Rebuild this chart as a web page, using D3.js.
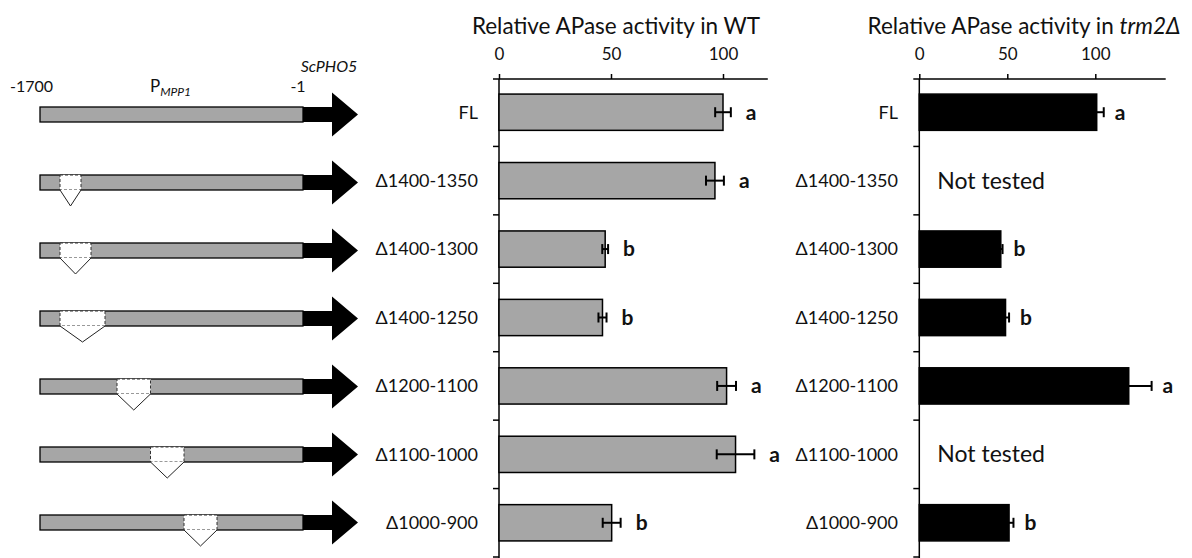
<!DOCTYPE html>
<html>
<head>
<meta charset="utf-8">
<script src="https://cdn.jsdelivr.net/npm/d3@7"></script>
<style>
  html, body { margin: 0; padding: 0; background: #fff; }
  svg { display: block; font-family: Lato, "Open Sans", sans-serif; }
</style>
</head>
<body>
<svg id="fig" width="1192" height="558"></svg>
<script>
// Promoter constructs (rows, top to bottom)
const constructs = ["FL", "Δ1400-1350", "Δ1400-1300", "Δ1400-1250", "Δ1200-1100", "Δ1100-1000", "Δ1000-900"];
// Deleted promoter segment of each construct (bp upstream of ScPHO5)
const deletionStart = [null, -1400, -1400, -1400, -1200, -1100, -1000];
const deletionEnd   = [null, -1350, -1300, -1250, -1100, -1000, -900];
// Relative APase activity in WT (mean, error, significance group)
const wtActivity = [100, 96.4, 47.4, 46.2, 101.6, 105.6, 50.3];
const wtError    = [3.5, 4, 1.3, 1.8, 4.2, 8.4, 4];
const wtGroup    = ["a", "a", "b", "b", "a", "a", "b"];
// Relative APase activity in trm2Δ (null = not tested)
const trm2Activity = [100.8, null, 46.3, 49, 119, null, 51];
const trm2Error    = [4, null, 1, 2, 13, null, 2.5];
const trm2Group    = ["a", null, "b", "b", "a", null, "b"];
// Axis ticks
const xTicks = [0, 50, 100];

const svg = d3.select("#fig");
svg.append("rect").attr("width", 1192).attr("height", 558).attr("fill", "#fff");

const GREY = "#a6a6a6";

// ---------- promoter schematic ----------
const px = d3.scaleLinear()
  .domain([-1700, -1400, -1350, -1300, -1250, -1200, -1100, -1000, -900, -1])
  .range([40, 60, 81, 91, 105, 117, 150.5, 184, 217, 303]);
const py = d3.scalePoint().domain(constructs).range([114.5, 522.5]);
const halfBar = 7.5, headHalf = 22, headStart = 332, tipX = 358, triH = 16;

const rows = svg.append("g").selectAll("g").data(constructs).join("g")
  .attr("transform", d => `translate(0,${py(d)})`);

rows.append("rect")
  .attr("x", px(-1700)).attr("y", -halfBar)
  .attr("width", px(-1) - px(-1700)).attr("height", 2 * halfBar)
  .attr("fill", GREY).attr("stroke", "#000").attr("stroke-width", 1.3);

rows.append("path")
  .attr("d", `M${px(-1)},${-halfBar}H${headStart}V${-headHalf}L${tipX},0L${headStart},${headHalf}V${halfBar}H${px(-1)}Z`)
  .attr("fill", "#000");

const del = rows.filter((d, i) => deletionStart[i] !== null);
del.append("rect")
  .attr("x", d => px(deletionStart[constructs.indexOf(d)]))
  .attr("y", -halfBar)
  .attr("width", d => px(deletionEnd[constructs.indexOf(d)]) - px(deletionStart[constructs.indexOf(d)]))
  .attr("height", 2 * halfBar)
  .attr("fill", "#fff").attr("stroke", "#333").attr("stroke-width", 1)
  .attr("stroke-dasharray", "3,2");
del.append("path")
  .attr("d", d => {
    const i = constructs.indexOf(d);
    const a = px(deletionStart[i]), b = px(deletionEnd[i]);
    return `M${a},${halfBar}L${(a + b) / 2},${halfBar + triH}L${b},${halfBar}`;
  })
  .attr("fill", "#fff").attr("stroke", "#222").attr("stroke-width", 1);

const lab = svg.append("g").attr("font-size", 16).attr("fill", "#111");
lab.append("text").attr("x", 10).attr("y", 92).text("-1700");
lab.append("text").attr("x", 298).attr("y", 92).attr("text-anchor", "middle").text("-1");
const pm = lab.append("text").attr("x", 150).attr("y", 92);
pm.append("tspan").attr("font-size", 17).text("P");
pm.append("tspan").attr("font-size", 12).attr("font-style", "italic").attr("dy", 4).text("MPP1");
lab.append("text").attr("x", 329).attr("y", 72).attr("text-anchor", "middle")
  .attr("font-style", "italic").text("ScPHO5");

// ---------- bar panels ----------
const yBand = d3.scaleBand().domain(constructs).range([78, 557])
  .paddingInner(0.47).paddingOuter(0.235);
const axisY = 79;

function panel(opts) {
  const { x, values, errors, groups, fill, labelX, title, letterGap } = opts;
  const g = svg.append("g");
  const x0 = x(0);

  // title
  const t = g.append("text").attr("x", opts.titleX).attr("y", 34)
    .attr("text-anchor", "middle").attr("font-size", 22.5).attr("fill", "#111");
  title(t);

  // top value axis
  const ax = g.append("g").attr("transform", `translate(0,${axisY})`)
    .call(d3.axisTop(x).tickValues(xTicks).tickSize(5).tickPadding(14).tickSizeOuter(0));
  ax.select(".domain").remove();
  ax.selectAll(".tick line").attr("stroke", "#000").attr("stroke-width", 1.5);
  ax.selectAll(".tick text").attr("font-size", 17).attr("fill", "#111").attr("font-family", "Lato, sans-serif");
  g.append("line").attr("x1", x0 - 6).attr("x2", x.range()[1])
    .attr("y1", axisY).attr("y2", axisY).attr("stroke", "#000").attr("stroke-width", 1.5);

  // category axis
  g.append("line").attr("x1", x0).attr("x2", x0).attr("y1", axisY).attr("y2", 558)
    .attr("stroke", "#000").attr("stroke-width", 1.5);
  const bounds = constructs.map(d => yBand(d) + yBand.bandwidth() + yBand.step() * yBand.paddingInner() / 2);
  g.selectAll("line.sep").data(bounds).join("line").attr("class", "sep")
    .attr("x1", x0 - 6).attr("x2", x0).attr("y1", d => d).attr("y2", d => d)
    .attr("stroke", "#000").attr("stroke-width", 1.5);
  g.selectAll("text.cat").data(constructs).join("text").attr("class", "cat")
    .attr("x", labelX).attr("y", d => yBand(d) + yBand.bandwidth() / 2)
    .attr("dy", "0.35em").attr("text-anchor", "end").attr("font-size", 18).attr("fill", "#111")
    .text(d => d);

  const rowsData = constructs.map((c, i) => ({ c, v: values[i], e: errors[i], grp: groups[i] }));
  const tested = rowsData.filter(d => d.v !== null);
  const cy = d => yBand(d.c) + yBand.bandwidth() / 2;

  g.selectAll("rect.bar").data(tested).join("rect").attr("class", "bar")
    .attr("x", x0).attr("y", d => yBand(d.c))
    .attr("width", d => x(d.v) - x0).attr("height", yBand.bandwidth())
    .attr("fill", fill).attr("stroke", "#000").attr("stroke-width", 1.5);

  const eb = g.selectAll("g.err").data(tested).join("g").attr("class", "err")
    .attr("stroke", "#000").attr("stroke-width", 2);
  eb.append("line").attr("x1", d => x(d.v - d.e)).attr("x2", d => x(d.v + d.e))
    .attr("y1", cy).attr("y2", cy);
  eb.append("line").attr("x1", d => x(d.v - d.e)).attr("x2", d => x(d.v - d.e))
    .attr("y1", d => cy(d) - 5).attr("y2", d => cy(d) + 5);
  eb.append("line").attr("x1", d => x(d.v + d.e)).attr("x2", d => x(d.v + d.e))
    .attr("y1", d => cy(d) - 5).attr("y2", d => cy(d) + 5);

  g.selectAll("text.grp").data(tested).join("text").attr("class", "grp")
    .attr("x", d => x(d.v + d.e) + letterGap).attr("y", cy).attr("dy", "0.35em")
    .attr("font-size", 21).attr("font-weight", "bold").attr("fill", "#111")
    .text(d => d.grp);

  g.selectAll("text.nt").data(rowsData.filter(d => d.v === null)).join("text").attr("class", "nt")
    .attr("x", x0 + 18).attr("y", cy).attr("dy", "0.35em")
    .attr("font-size", 23).attr("fill", "#111").text("Not tested");
}

const xWT = d3.scaleLinear().domain([0, 120]).range([499, 767.8]);
panel({
  x: xWT, values: wtActivity, errors: wtError, groups: wtGroup, fill: GREY,
  labelX: 478, titleX: 616, letterGap: 15,
  title: t => t.text("Relative APase activity in WT")
});

const xT = d3.scaleLinear().domain([0, 140]).range([919.3, 1165.7]);
panel({
  x: xT, values: trm2Activity, errors: trm2Error, groups: trm2Group, fill: "#000",
  labelX: 898, titleX: 1024, letterGap: 11,
  title: t => { t.append("tspan").text("Relative APase activity in "); t.append("tspan").attr("font-style", "italic").text("trm2Δ"); }
});
</script>
</body>
</html>
